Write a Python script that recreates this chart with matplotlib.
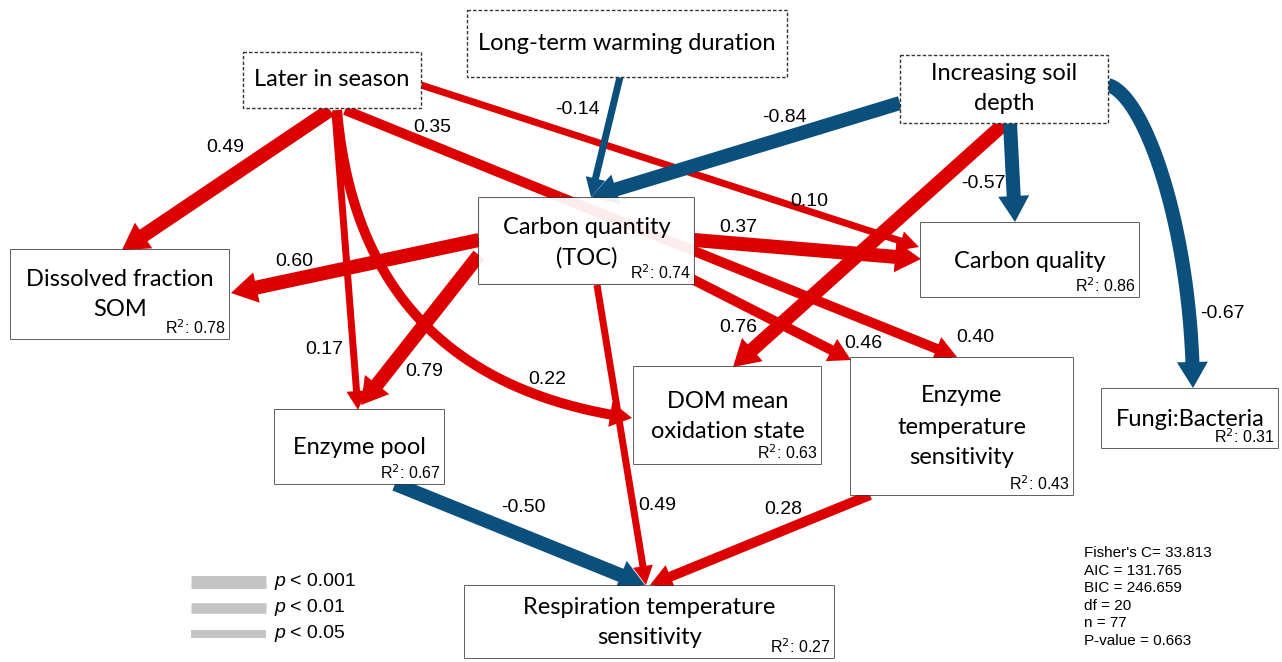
import numpy as np
import matplotlib.pyplot as plt
from matplotlib.patches import Rectangle, Polygon

RED = "#dd0000"
BLUE = "#0b4f7d"
BOX_FONT = ["Lato", "DejaVu Sans"]
NUM_FONT = ["Liberation Sans", "DejaVu Sans"]
NARROW_FONT = ["Liberation Sans Narrow", "Liberation Sans", "DejaVu Sans"]

# node text, R^2 and box frame (pixel coordinates, y down)
node_text = {
    "season": ["Later in season"],
    "warming": ["Long-term warming duration"],
    "depth": ["Increasing soil", "depth"],
    "toc": ["Carbon quantity", "(TOC)"],
    "diss": ["Dissolved fraction", "SOM"],
    "pool": ["Enzyme pool"],
    "dom": ["DOM mean", "oxidation state"],
    "enz_ts": ["Enzyme", "temperature", "sensitivity"],
    "fungi": ["Fungi:Bacteria"],
    "cqual": ["Carbon quality"],
    "resp": ["Respiration temperature", "sensitivity"],
}
r2_values = {"toc": 0.74, "diss": 0.78, "pool": 0.67, "dom": 0.63,
             "enz_ts": 0.43, "fungi": 0.31, "cqual": 0.86, "resp": 0.27}
exogenous = ["season", "warming", "depth"]

box_frame = {
    "season": (243, 52, 421, 108),
    "warming": (467, 10, 787, 77),
    "depth": (900, 55, 1108, 123),
    "toc": (479, 198, 694, 284),
    "diss": (11, 250, 229, 339),
    "pool": (275, 410, 444, 484),
    "dom": (634, 367, 821, 464),
    "enz_ts": (851, 358, 1073, 495),
    "fungi": (1102, 389, 1278, 448),
    "cqual": (921, 223, 1139, 297),
    "resp": (465, 586, 834, 658),
}
text_y = {
    "season": [80], "warming": [44], "depth": [74, 103],
    "toc": [227, 258], "diss": [280, 310], "pool": [447],
    "dom": [402, 432], "enz_ts": [396, 427, 458], "fungi": [419],
    "cqual": [261], "resp": [607, 638],
}

# path coefficients and significance class
paths = [
    ("season", "diss", 0.49, 3),
    ("season", "pool", 0.17, 1),
    ("season", "dom", 0.22, 2),
    ("season", "cqual", 0.10, 1),
    ("season", "toc", 0.35, 2),
    ("toc", "enz_ts", 0.40, 2),
    ("warming", "toc", -0.14, 1),
    ("depth", "toc", -0.84, 3),
    ("depth", "cqual", -0.57, 3),
    ("depth", "fungi", -0.67, 3),
    ("depth", "dom", 0.76, 3),
    ("toc", "diss", 0.60, 3),
    ("toc", "pool", 0.79, 3),
    ("toc", "cqual", 0.37, 3),
    ("toc", "enz_ts", 0.46, 2),
    ("toc", "resp", 0.49, 1),
    ("pool", "resp", -0.50, 3),
    ("enz_ts", "resp", 0.28, 2),
]

# drawn route of each path (control points), arrow head flag, label centre
routes = [
    ([(330, 110), (122, 250)], True, (225, 147)),
    ([(335, 112), (358, 410)], True, (324, 349)),
    ([(337, 110), (360, 380), (632, 418)], True, (547, 379)),
    ([(421, 85), (919, 247)], True, (809, 201)),
    ([(345, 110), (560, 197)], False, (432, 128)),
    ([(560, 197), (957, 357)], True, (975, 337)),
    ([(620, 77), (591, 197)], True, (577, 109)),
    ([(900, 103), (591, 197)], True, (784, 118)),
    ([(1010, 123), (1015, 222)], True, (983, 184)),
    ([(1108, 85), (1145, 95), (1192, 230), (1193, 388)], True, (1222, 313)),
    ([(1005, 123), (733, 367)], True, (738, 327)),
    ([(479, 240), (231, 293)], True, (294, 262)),
    ([(479, 255), (361, 405)], True, (424, 372)),
    ([(694, 240), (921, 259)], True, (738, 228)),
    ([(690, 278), (851, 360)], True, (863, 343)),
    ([(597, 285), (646, 585)], True, (657, 506)),
    ([(395, 484), (645, 585)], True, (523, 507)),
    ([(870, 495), (650, 585)], True, (783, 509)),
]

shaft_px = {3: 14, 2: 10, 1: 7}
head_px = {3: (31, 26), 2: (25, 22), 1: (20, 19)}

legend_labels = ["< 0.001", "< 0.01", "< 0.05"]
legend_sig = [3, 2, 1]
fit_stats = ["Fisher's C= 33.813", "AIC = 131.765", "BIC = 246.659",
             "df = 20", "n = 77", "P-value = 0.663"]


def curve_points(ctrl):
    ctrl = np.array(ctrl, dtype=float)
    t = np.linspace(0, 1, 200)[:, None]
    if len(ctrl) == 2:
        return ctrl[0] + t * (ctrl[1] - ctrl[0])
    if len(ctrl) == 3:
        return (1 - t) ** 2 * ctrl[0] + 2 * t * (1 - t) * ctrl[1] + t ** 2 * ctrl[2]
    return ((1 - t) ** 3 * ctrl[0] + 3 * t * (1 - t) ** 2 * ctrl[1]
            + 3 * t ** 2 * (1 - t) * ctrl[2] + t ** 3 * ctrl[3])


def draw_path(ax, ctrl, color, sig, head, z):
    pts = curve_points(ctrl)
    lw = shaft_px[sig] * 0.72
    if head:
        hw, hl = head_px[sig]
        tip = pts[-1]
        dist = np.hypot(*(pts - tip).T)
        k = np.argmax(dist < hl) if np.any(dist < hl) else len(pts) - 1
        base = pts[max(k - 1, 0)]
        d = (tip - base) / np.hypot(*(tip - base))
        base = tip - hl * d
        n = np.array([-d[1], d[0]])
        shaft = np.vstack([pts[:k], base + 1.5 * d])
        ax.plot(shaft[:, 0], shaft[:, 1], color=color, lw=lw,
                solid_capstyle="butt", solid_joinstyle="round", zorder=z)
        ax.add_patch(Polygon([tip, base + n * hw / 2, base - n * hw / 2],
                             closed=True, fc=color, ec="none", zorder=z))
    else:
        ax.plot(pts[:, 0], pts[:, 1], color=color, lw=lw,
                solid_capstyle="butt", zorder=z)


fig = plt.figure(figsize=(12.82, 6.62), dpi=100)
ax = fig.add_axes([0, 0, 1, 1])
ax.set_xlim(0, 1282)
ax.set_ylim(662, 0)
ax.axis("off")

# arrows: positive paths in red below negative paths in blue
for (src, dst, coef, sig), (ctrl, head, lab) in zip(paths, routes):
    color = RED if coef > 0 else BLUE
    draw_path(ax, ctrl, color, sig, head, 2 if coef > 0 else 3)
    ax.text(lab[0], lab[1], f"{coef:.2f}", ha="center", va="center",
            fontsize=14, family=NUM_FONT, color="black", zorder=6)

# boxes
for key, lines in node_text.items():
    x0, y0, x1, y1 = box_frame[key]
    if key in exogenous:
        rect = Rectangle((x0, y0), x1 - x0, y1 - y0, fc="white", ec="#333333",
                         lw=1.0, ls=(0, (2.5, 1.5)), zorder=4)
    else:
        rect = Rectangle((x0, y0), x1 - x0, y1 - y0, fc="white", ec="none",
                         alpha=0.93 if key == "toc" else 1, zorder=4)
        ax.add_patch(Rectangle((x0, y0), x1 - x0, y1 - y0, fc="none",
                               ec="#333333", lw=1.1, zorder=4))
    ax.add_patch(rect)
    cx = (x0 + x1) / 2
    for line, ty in zip(lines, text_y[key]):
        ax.text(cx, ty, line, ha="center", va="center", fontsize=17,
                family=BOX_FONT, color="black", zorder=5)
    if key in r2_values:
        ax.text(x1 - 3, y1 - 2, f"R$^2$: {r2_values[key]:.2f}", ha="right",
                va="bottom", fontsize=11.5, family=NUM_FONT, zorder=5)

# significance legend
for i, (lab, sig) in enumerate(zip(legend_labels, legend_sig)):
    y = 582 + 26 * i
    ax.plot([191, 266], [y, y], color="#c4c4c4", lw=(sig * 2.5 + 5.5) * 0.72,
            solid_capstyle="butt")
    ax.text(274, y, "p", ha="left", va="center", fontsize=14,
            family=NUM_FONT, style="italic")
    ax.text(290, y, lab, ha="left", va="center", fontsize=14,
            family=NUM_FONT)

# model fit statistics
for i, s in enumerate(fit_stats):
    ax.text(1084, 553 + 17.6 * i, s, ha="left", va="center", fontsize=11,
            family=NARROW_FONT)

fig.savefig("out.png", dpi=100, facecolor="white")
